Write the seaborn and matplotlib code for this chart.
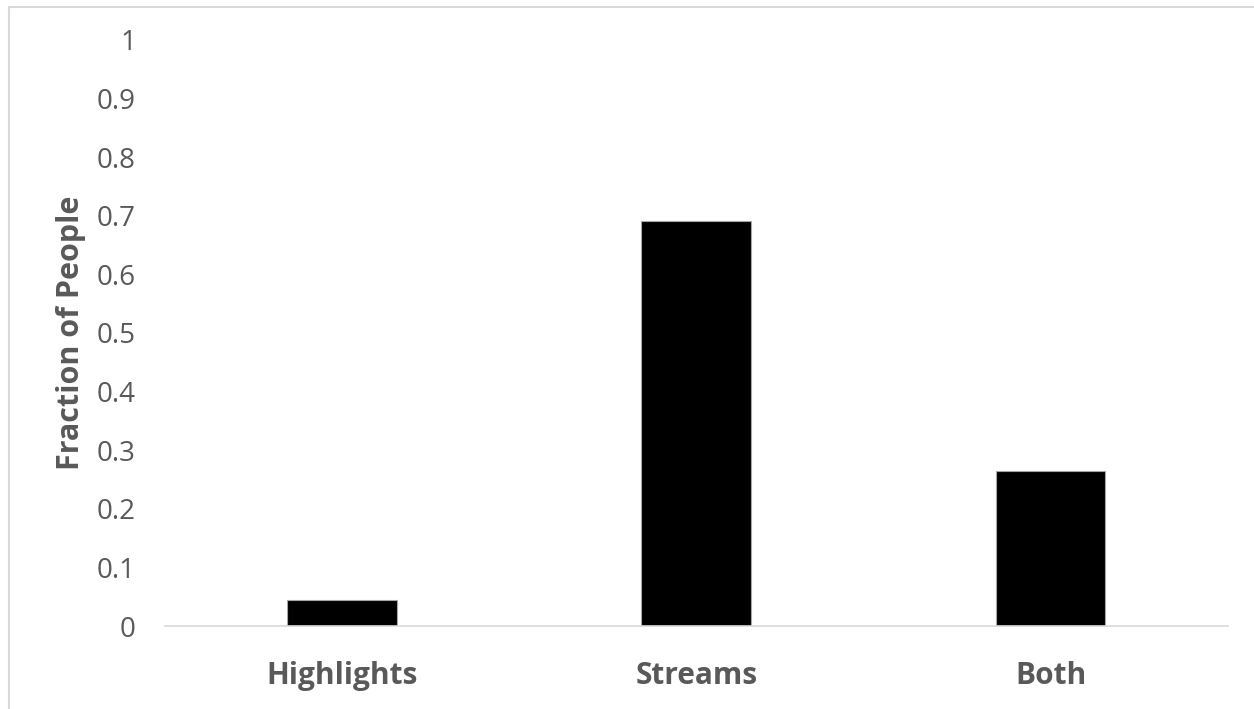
import matplotlib
matplotlib.use('Agg')
import matplotlib.pyplot as plt
from matplotlib.lines import Line2D
import pandas as pd
import seaborn as sns

categories = ['Highlights', 'Streams', 'Both']
fractions = [0.045, 0.691, 0.265]
yticks = [0, 0.1, 0.2, 0.3, 0.4, 0.5, 0.6, 0.7, 0.8, 0.9, 1]
ytick_labels = ['0', '0.1', '0.2', '0.3', '0.4', '0.5', '0.6', '0.7', '0.8', '0.9', '1']

sns.set_style('white')
plt.rcParams['font.family'] = ['Open Sans', 'DejaVu Sans']

df = pd.DataFrame({'category': categories, 'fraction': fractions})

fig = plt.figure(figsize=(12.54, 7.09), dpi=100)
ax = fig.add_axes([0.1316, 0.117, 0.8474, 0.8267])

sns.barplot(data=df, x='category', y='fraction', color='black', width=0.31,
            saturation=1, edgecolor='#a6a6a6', linewidth=0.8, ax=ax)

ax.set_ylim(0, 1)
ax.set_yticks(yticks)
ax.set_yticklabels(ytick_labels)
ax.set_xlim(-0.5, 2.5)

grey = '#595959'
ax.tick_params(axis='y', length=0, pad=21, labelsize=20, labelcolor=grey)
ax.tick_params(axis='x', length=0, pad=25, labelsize=21.5, labelcolor=grey)
for lab in ax.get_xticklabels():
    lab.set_fontweight('bold')

ax.set_xlabel('')
ax.set_ylabel('Fraction of People', fontsize=22, fontweight='bold', color=grey, labelpad=8)

for s in ['top', 'right', 'left']:
    ax.spines[s].set_visible(False)
ax.spines['bottom'].set_color('#d9d9d9')
ax.spines['bottom'].set_linewidth(1.2)

# outer chart border (cropped at right and bottom)
border = '#d9d9d9'
fig.add_artist(Line2D([8.5 / 1254, 8.5 / 1254], [0, 1 - 7 / 709], color=border, lw=1.5, transform=fig.transFigure))
fig.add_artist(Line2D([8.5 / 1254, 1], [1 - 7 / 709, 1 - 7 / 709], color=border, lw=1.5, transform=fig.transFigure))

fig.savefig('out.png', dpi=100, facecolor='white')
